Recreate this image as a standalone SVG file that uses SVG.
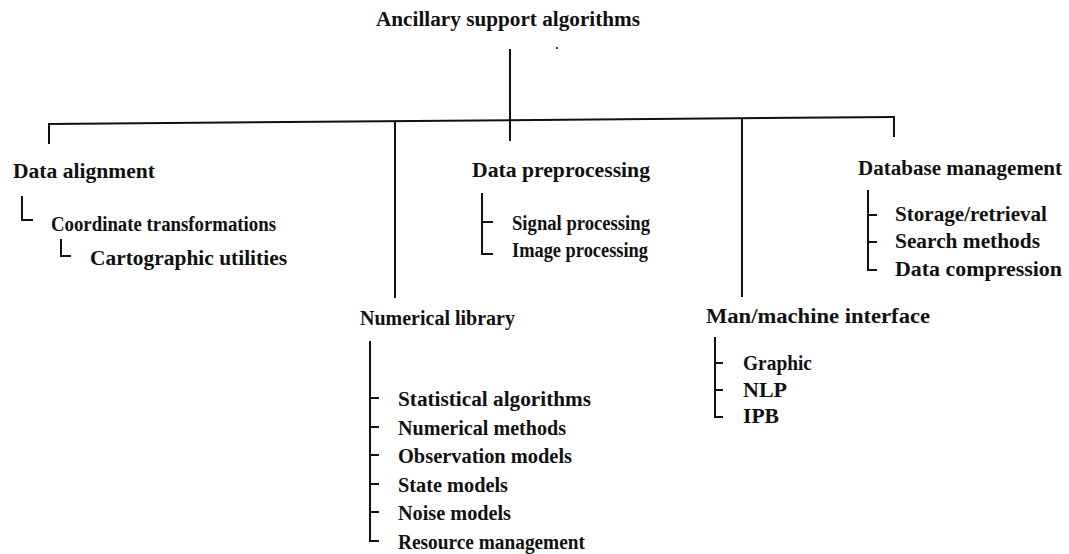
<svg xmlns="http://www.w3.org/2000/svg" width="1069" height="554" viewBox="0 0 1069 554">
  <style>
    text { font-family: "Liberation Serif", "Times New Roman", serif; font-size: 20.5px; font-weight: bold; fill: #111; }
    .ln { fill: none; stroke: #111; stroke-width: 2; stroke-linecap: square; }
  </style>
  <rect width="1069" height="554" fill="#fff"/>

  <!-- tree connectors and list brackets -->
  <g id="connectors" class="ln">
    <line x1="510" y1="50" x2="510" y2="140"/>
    <line x1="49" y1="124" x2="894" y2="117"/>
    <line x1="49" y1="124" x2="49" y2="143"/>
    <line x1="395" y1="122" x2="395" y2="297"/>
    <line x1="742" y1="119" x2="742" y2="296"/>
    <line x1="894" y1="117" x2="894" y2="136"/>
    <!-- data alignment -->
    <path d="M22,197 V220 H32"/>
    <path d="M61,240 V256 H70"/>
    <!-- data preprocessing -->
    <path d="M482,194 V254 H492 M482,222 H492"/>
    <!-- database management -->
    <path d="M868,191 V270 H876 M868,215 H876 M868,242 H876"/>
    <!-- numerical library -->
    <path d="M370,342 V541 H378 M370,398 H378 M370,427 H378 M370,455 H378 M370,484 H378 M370,512 H378"/>
    <!-- man/machine interface -->
    <path d="M715,338 V417 H722 M715,363 H722 M715,390 H722"/>
  </g>
  <circle cx="557" cy="48" r="1.1" fill="#111"/>

  <g id="root"><text x="376" y="26" textLength="264" lengthAdjust="spacingAndGlyphs">Ancillary support algorithms</text></g>

  <g id="data-alignment">
    <text x="13" y="178" textLength="142" lengthAdjust="spacingAndGlyphs">Data alignment</text>
    <text x="51" y="231" textLength="225" lengthAdjust="spacingAndGlyphs">Coordinate transformations</text>
    <text x="90" y="265" textLength="197" lengthAdjust="spacingAndGlyphs">Cartographic utilities</text>
  </g>

  <g id="data-preprocessing">
    <text x="472" y="177" textLength="178" lengthAdjust="spacingAndGlyphs">Data preprocessing</text>
    <text x="512" y="230" textLength="138" lengthAdjust="spacingAndGlyphs">Signal processing</text>
    <text x="512" y="257" textLength="136" lengthAdjust="spacingAndGlyphs">Image processing</text>
  </g>

  <g id="database-management">
    <text x="858" y="175" textLength="204" lengthAdjust="spacingAndGlyphs">Database management</text>
    <text x="895" y="221" textLength="152" lengthAdjust="spacingAndGlyphs">Storage/retrieval</text>
    <text x="895" y="248" textLength="145" lengthAdjust="spacingAndGlyphs">Search methods</text>
    <text x="895" y="276" textLength="167" lengthAdjust="spacingAndGlyphs">Data compression</text>
  </g>

  <g id="numerical-library">
    <text x="360" y="325" textLength="155" lengthAdjust="spacingAndGlyphs">Numerical library</text>
    <text x="398" y="406" textLength="193" lengthAdjust="spacingAndGlyphs">Statistical algorithms</text>
    <text x="398" y="435" textLength="168" lengthAdjust="spacingAndGlyphs">Numerical methods</text>
    <text x="398" y="463" textLength="174" lengthAdjust="spacingAndGlyphs">Observation models</text>
    <text x="398" y="492" textLength="110" lengthAdjust="spacingAndGlyphs">State models</text>
    <text x="398" y="520" textLength="113" lengthAdjust="spacingAndGlyphs">Noise models</text>
    <text x="398" y="549" textLength="187" lengthAdjust="spacingAndGlyphs">Resource management</text>
  </g>

  <g id="man-machine-interface">
    <text x="706" y="323" textLength="224" lengthAdjust="spacingAndGlyphs">Man/machine interface</text>
    <text x="743" y="370" textLength="69" lengthAdjust="spacingAndGlyphs">Graphic</text>
    <text x="743" y="397" textLength="44" lengthAdjust="spacingAndGlyphs">NLP</text>
    <text x="743" y="423" textLength="36" lengthAdjust="spacingAndGlyphs">IPB</text>
  </g>
</svg>
